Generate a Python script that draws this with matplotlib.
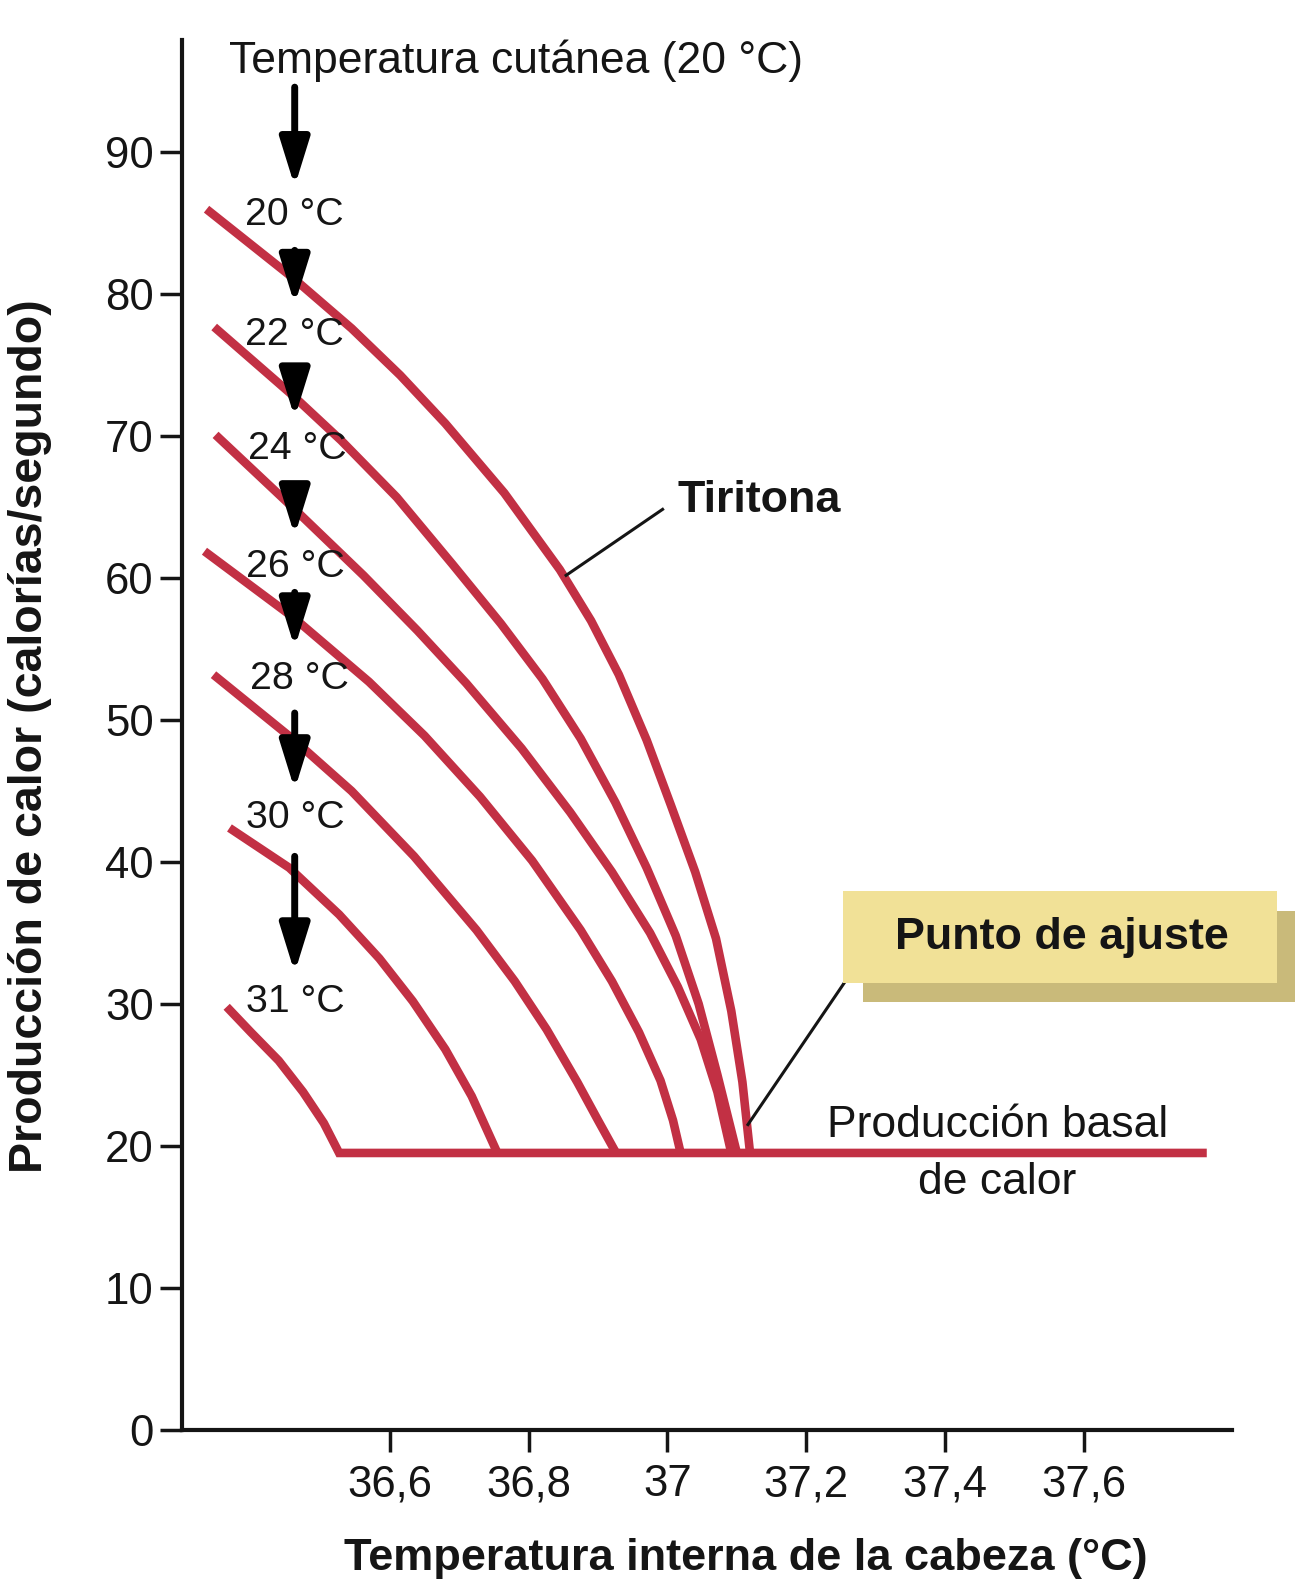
import matplotlib
matplotlib.use("Agg")
import matplotlib.pyplot as plt
from matplotlib.patches import Rectangle, FancyArrowPatch
import numpy as np

plt.rcParams['font.family'] = ['Liberation Sans', 'DejaVu Sans']

# ---- data ----
x_ticks = [36.6, 36.8, 37.0, 37.2, 37.4, 37.6]
x_tick_labels = ['36,6', '36,8', '37', '37,2', '37,4', '37,6']
y_ticks = [0, 10, 20, 30, 40, 50, 60, 70, 80, 90]

skin_labels = ['20 °C', '22 °C', '24 °C', '26 °C', '28 °C', '30 °C', '31 °C']

x_20 = [36.336, 36.462, 36.545, 36.615, 36.680, 36.765, 36.845, 36.890, 36.930,
        36.970, 37.005, 37.040, 37.070, 37.092, 37.108, 37.119]
y_20 = [86.0, 81.1, 77.6, 74.3, 70.9, 66.0, 60.6, 57.0, 53.2,
        48.6, 44.0, 39.3, 34.6, 29.5, 24.5, 19.5]
x_22 = [36.347, 36.462, 36.530, 36.610, 36.690, 36.760, 36.820, 36.875, 36.925,
        36.970, 37.012, 37.045, 37.072, 37.100]
y_22 = [77.7, 72.8, 69.7, 65.7, 61.0, 56.8, 52.9, 48.7, 44.2,
        39.6, 34.8, 30.0, 25.0, 19.5]
x_24 = [36.349, 36.462, 36.562, 36.640, 36.710, 36.790, 36.860, 36.920, 36.975,
        37.015, 37.048, 37.072, 37.092]
y_24 = [70.1, 64.9, 60.2, 56.3, 52.6, 48.0, 43.5, 39.3, 35.0,
        31.2, 27.5, 23.8, 19.5]
x_26 = [36.333, 36.462, 36.570, 36.650, 36.730, 36.805, 36.875, 36.920, 36.959,
        36.990, 37.008, 37.019]
y_26 = [61.9, 57.2, 52.7, 48.9, 44.6, 40.1, 35.2, 31.6, 28.0,
        24.6, 21.8, 19.5]
x_28 = [36.346, 36.462, 36.545, 36.635, 36.725, 36.780, 36.826, 36.870, 36.900, 36.926]
y_28 = [53.2, 48.6, 45.0, 40.4, 35.2, 31.6, 28.2, 24.5, 21.8, 19.5]
x_30 = [36.369, 36.455, 36.527, 36.585, 36.633, 36.680, 36.718, 36.755]
y_30 = [42.4, 39.6, 36.3, 33.2, 30.2, 26.8, 23.5, 19.5]
x_31 = [36.365, 36.400, 36.440, 36.475, 36.505, 36.527]
y_31 = [29.8, 28.0, 26.0, 23.8, 21.6, 19.5]

basal_x = [36.527, 37.777]
basal_y = [19.5, 19.5]

# label anchor (left, baseline) for each skin temperature
label_x = [36.391, 36.391, 36.396, 36.393, 36.398, 36.393, 36.393]
label_y = [84.9, 76.4, 68.4, 60.1, 52.2, 42.4, 29.4]

# arrows (shaft start y, tip y) at x = arrow_x
arrow_x = 36.463
arrow_start = [94.6, 83.1, 74.8, 66.5, 59.0, 50.5, 40.4]
arrow_end = [87.6, 79.3, 71.3, 63.0, 55.1, 45.1, 32.2]

RED = '#C23044'
INK = '#151515'

fig = plt.figure(figsize=(12.95, 15.81), dpi=100)
ax = fig.add_axes([0.1402, 0.0957, 0.8115, 0.8788])
ax.set_xlim(36.30, 37.814)
ax.set_ylim(0, 97.9)

for s in ['top', 'right']:
    ax.spines[s].set_visible(False)
for s in ['left', 'bottom']:
    ax.spines[s].set_linewidth(3)
    ax.spines[s].set_color(INK)

ax.set_xticks(x_ticks)
ax.set_xticklabels(x_tick_labels)
ax.set_yticks(y_ticks)
ax.tick_params(axis='both', direction='out', length=16, width=2.5,
               labelsize=31.5, colors=INK)
ax.tick_params(axis='x', pad=9)
ax.tick_params(axis='y', pad=4)

curves = [(x_20, y_20), (x_22, y_22), (x_24, y_24), (x_26, y_26),
          (x_28, y_28), (x_30, y_30)]
for xs, ys in curves:
    ax.plot(xs, ys, color=RED, lw=6.2, solid_capstyle='butt',
            solid_joinstyle='round', zorder=2)
# 31 °C curve joined to the basal line
ax.plot(np.r_[x_31, basal_x], np.r_[y_31, basal_y], color=RED, lw=6.2,
        solid_capstyle='butt', solid_joinstyle='miter', zorder=2)

# arrows
for y0, y1 in zip(arrow_start, arrow_end):
    arr = FancyArrowPatch((arrow_x, y0), (arrow_x, y1),
                          arrowstyle='-|>,head_length=2.9,head_width=0.9',
                          mutation_scale=10, lw=5, color='black',
                          shrinkA=0, shrinkB=0, zorder=4)
    ax.add_patch(arr)

# skin temperature labels
for lx, ly, t in zip(label_x, label_y, skin_labels):
    ax.text(lx, ly, t, fontsize=28.3, color=INK, ha='left', va='baseline', zorder=5)

ax.text(36.369, 95.6, 'Temperatura cutánea (20 °C)', fontsize=32, color=INK,
        ha='left', va='baseline', clip_on=False, zorder=5)

# Tiritona
ax.plot([36.993, 36.854], [64.85, 60.2], color=INK, lw=2.2, zorder=3)
ax.text(37.014, 65.46, 'Tiritona', fontsize=32.3, fontweight='bold', color=INK,
        ha='left', va='center', zorder=5)

# Producción basal de calor
ax.text(37.475, 20.6, 'Producción basal', fontsize=32, color=INK,
        ha='center', va='baseline', zorder=5)
ax.text(37.475, 16.6, 'de calor', fontsize=32, color=INK,
        ha='center', va='baseline', zorder=5)

# Punto de ajuste pointer
ax.plot([37.273, 37.116], [32.8, 21.5], color=INK, lw=2.2, zorder=3)

# Punto de ajuste box with shadow (figure coordinates)
fig.patches.append(Rectangle((0.6667, 0.3661), 0.40, 0.0574,
                             transform=fig.transFigure, facecolor='#C9BA7A',
                             edgecolor='none', zorder=1))
fig.patches.append(Rectangle((0.6511, 0.3782), 0.3349, 0.0580,
                             transform=fig.transFigure, facecolor='#F1E197',
                             edgecolor='none', zorder=2))
fig.text(0.8201, 0.4070, 'Punto de ajuste', fontsize=32.3, fontweight='bold',
         color=INK, ha='center', va='center', zorder=3)

# axis labels
fig.text(0.5763, 0.014, 'Temperatura interna de la cabeza (°C)', fontsize=32.5,
         fontweight='bold', color=INK, ha='center', va='center')
fig.text(0.0234, 0.5344, 'Producción de calor (calorías/segundo)', fontsize=33.5,
         fontweight='bold', color=INK, ha='center', va='center', rotation=90)

fig.savefig('out.png', dpi=100, facecolor='white')
